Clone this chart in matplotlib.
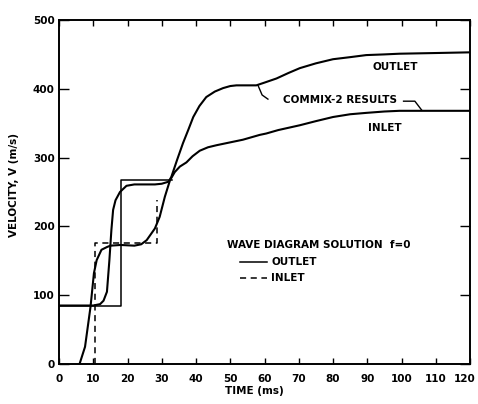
import matplotlib
matplotlib.use("Agg")
from matplotlib import pyplot as plt
from matplotlib.transforms import ScaledTranslation

# COMMIX-2 results (ms, m/s)
outlet_t = [0, 10, 12, 13, 14, 14.7, 15.3, 15.8, 16.5, 17.8, 19.7, 22, 25, 28, 30, 32,
            32.8, 34.5, 36.2, 37.8, 39.2, 41, 43, 45.5, 47.9, 50, 51.8, 54, 57.6, 60,
            63.5, 67, 70.3, 75, 80, 85, 89.7, 95, 99.4, 110, 120]
outlet_v = [85, 85, 87, 92, 105, 150, 195, 224, 238, 250, 259, 261, 261, 261, 262, 265,
            272, 297, 321, 341, 359, 375, 388, 396, 401, 404, 405, 405, 405, 409,
            415, 423, 430, 437, 443, 446, 449, 450, 451, 452, 453]

inlet_t = [6, 7.6, 9.2, 10.2, 11, 12.4, 14, 15, 18, 22, 24, 25.6, 28, 29.4, 30.9, 32.4,
           33.8, 35.3, 37.2, 39, 41.1, 43.5, 46, 50.8, 53.7, 58.6, 60.5, 64, 70.3,
           75, 80, 85, 89.7, 95, 99.4, 110, 120]
inlet_v = [0, 25, 83, 132, 151, 166, 170, 172, 173, 172, 174, 180, 197, 214, 243, 267,
           279, 287, 293, 302, 310, 315, 318, 323, 326, 333, 335, 340, 347,
           353, 359, 363, 365, 367, 368, 368, 368]

# wave diagram solution, f=0
wave_out_t = [0, 18, 18, 33]
wave_out_v = [85, 85, 268, 268]
wave_in_t = [10.5, 10.5, 28.5, 28.5]
wave_in_v = [0, 176, 176, 238]

x_ticks = list(range(0, 121, 10))
y_ticks = list(range(0, 501, 100))

font = {"family": "DejaVu Sans", "weight": "bold", "size": 7.5}

fig = plt.figure(figsize=(4.78, 4.04), dpi=100)
ax = fig.add_axes([59 / 478, 40 / 404, 411 / 478, 344 / 404])

ax.plot(outlet_t, outlet_v, color="black", lw=1.5)
ax.plot(inlet_t, inlet_v, color="black", lw=1.5)
ax.plot(wave_out_t, wave_out_v, color="black", lw=1.1)
ax.plot(wave_in_t, wave_in_v, color="black", lw=1.1, ls=(0, (4, 3)))

ax.set_xlim(0, 120)
ax.set_ylim(0, 500)
ax.set_xticks(x_ticks)
ax.set_yticks(y_ticks)
ax.set_xticklabels([str(x) for x in x_ticks], fontdict=font)
ax.set_yticklabels([str(y) for y in y_ticks], fontdict=font)
ax.tick_params(axis="both", direction="in", top=True, right=True, width=1.0)
ax.tick_params(axis="x", length=4, pad=7)
ax.tick_params(axis="y", length=7, pad=3)
for s in ax.spines.values():
    s.set_linewidth(1.4)

# last x label sits a little left so it stays inside the picture
last = ax.get_xticklabels()[-1]
last.set_transform(last.get_transform() + ScaledTranslation(-5 / 100, 0, fig.dpi_scale_trans))

# axis labels
fig.text(14 / 478, 1 - 185 / 404, "VELOCITY, V (m/s)", rotation=90,
         ha="center", va="center", **font)
fig.text(254 / 478, 1 - 391 / 404, "TIME (ms)", ha="center", va="center", **font)

# curve annotations
ax.text(98.1, 432, "OUTLET", ha="center", va="center", **font)
ax.text(95.2, 343, "INLET", ha="center", va="center", **font)
ax.text(82.0, 383, "COMMIX-2 RESULTS", ha="center", va="center", **font)
ax.plot([58.1, 59.3, 61.0], [405, 391, 385], color="black", lw=1.0)
ax.plot([100.6, 103.9, 105.9], [382, 382, 369], color="black", lw=1.0)

# legend block
ax.text(49, 173, "WAVE DIAGRAM SOLUTION  f=0", ha="left", va="center", **font)
ax.plot([52.8, 60.6], [148, 148], color="black", lw=1.1)
ax.plot([52.8, 60.6], [125, 125], color="black", lw=1.1, ls=(0, (4, 3)))
ax.text(62.0, 148, "OUTLET", ha="left", va="center", **font)
ax.text(62.0, 125, "INLET", ha="left", va="center", **font)

fig.savefig("out.png", dpi=100)
